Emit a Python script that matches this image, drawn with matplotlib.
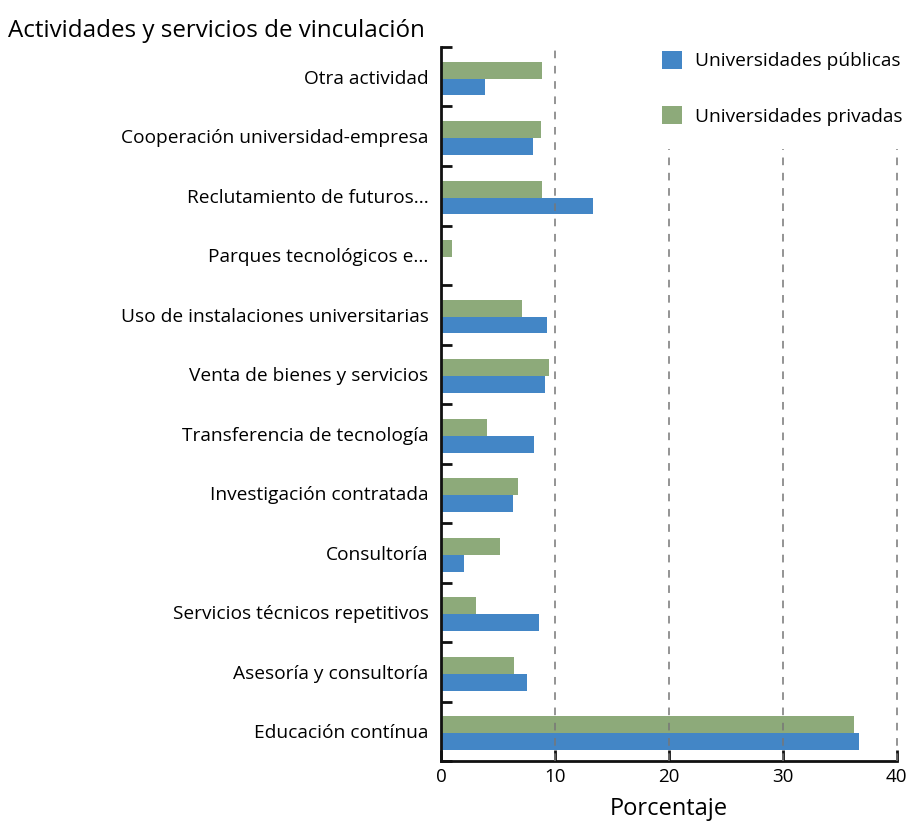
import matplotlib.pyplot as plt
import numpy as np

categorias = ["Otra actividad", "Cooperación universidad-empresa", "Reclutamiento de futuros...",
              "Parques tecnológicos e...", "Uso de instalaciones universitarias",
              "Venta de bienes y servicios", "Transferencia de tecnología",
              "Investigación contratada", "Consultoría", "Servicios técnicos repetitivos",
              "Asesoría y consultoría", "Educación contínua"]
publicas = [3.9, 8.1, 13.3, 0.0, 9.3, 9.1, 8.2, 6.3, 2.0, 8.6, 7.55, 36.7]
privadas = [8.85, 8.8, 8.85, 1.0, 7.1, 9.5, 4.0, 6.8, 5.2, 3.1, 6.4, 36.25]

azul = "#4386c6"
verde = "#8daa7a"

plt.rcParams['font.family'] = ['Open Sans', 'DejaVu Sans']

fig = plt.figure(figsize=(9.1, 8.23), dpi=100)
ax = fig.add_axes([0.4846, 0.0753, 0.5008, 0.8676])

y = np.arange(len(categorias))
h = 0.285
ax.barh(y + 0.03 + h / 2, publicas, height=h, color=azul, label="Universidades públicas", zorder=2)
ax.barh(y + 0.03 - h / 2, privadas, height=h, color=verde, label="Universidades privadas", zorder=2)

ax.set_ylim(len(categorias) - 0.5, -0.5)
ax.set_xlim(0, 40)
ax.set_xticks([0, 10, 20, 30, 40])
ax.set_yticks(y)
ax.set_yticklabels(categorias, fontsize=13.8)
ax.set_yticks(np.arange(len(categorias) + 1) - 0.5, minor=True)
ax.tick_params(axis='y', which='major', length=0, pad=9)
ax.tick_params(axis='y', which='minor', direction='in', length=8, width=2, color='#111111')
ax.tick_params(axis='x', direction='in', length=8, width=2, color='#111111', labelsize=13.5, pad=5)

for s in ['top', 'right']:
    ax.spines[s].set_visible(False)
for s in ['left', 'bottom']:
    ax.spines[s].set_linewidth(2)
    ax.spines[s].set_color('#111111')

for v in [10, 20, 30, 40]:
    ax.axvline(v, color='#777777', lw=1.1, ls=(0, (5, 5)), zorder=3, clip_on=False)

ax.set_xlabel("Porcentaje", fontsize=17, labelpad=8)
fig.text(0.009, 0.962, "Actividades y servicios de vinculación", fontsize=17.4, va='center')

leg = ax.legend(loc='upper left', bbox_to_anchor=(639 / 910, 1 - 28 / 823), bbox_transform=fig.transFigure,
                fontsize=13.8, frameon=True, framealpha=1, edgecolor='none', facecolor='white',
                handlelength=1.05, handleheight=1.05, labelspacing=1.87, handletextpad=0.65,
                borderpad=1.2, borderaxespad=0, fancybox=False)
leg.set_zorder(5)

fig.savefig("out.png", dpi=100)
